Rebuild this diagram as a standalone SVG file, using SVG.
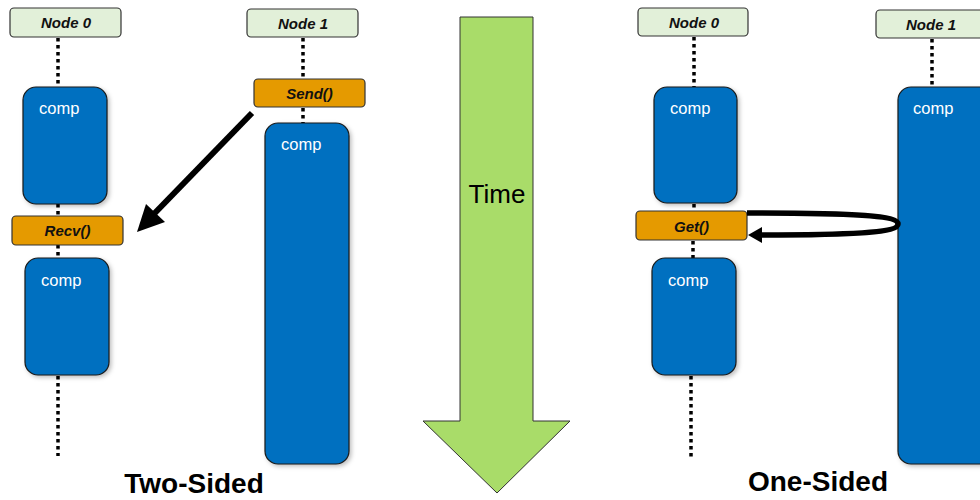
<svg xmlns="http://www.w3.org/2000/svg" width="980" height="500" viewBox="0 0 980 500">
<style>
.lbl{fill:#e2f0d9;stroke:#333;stroke-width:1.2}
.lbt{font-family:"Liberation Sans",Arial,sans-serif;font-weight:bold;font-style:italic;font-size:15px;fill:#111;text-anchor:middle}
.comp{fill:#0070c0;stroke:#1a1a1a;stroke-width:1.2}
.ct{font-family:"Liberation Sans",Arial,sans-serif;font-size:16.5px;fill:#fff}
.op{fill:#e59a00;stroke:#333;stroke-width:1.2}
.dot{stroke:#000;stroke-width:3.5;stroke-dasharray:3.5 3.5;fill:none}
.title{font-family:"Liberation Sans",Arial,sans-serif;font-weight:bold;font-size:28px;fill:#000;text-anchor:middle}
</style>
<defs>
<filter id="sh" x="-20%" y="-20%" width="150%" height="150%">
<feDropShadow dx="2" dy="2" stdDeviation="2" flood-color="#000" flood-opacity="0.25"/>
</filter>
</defs>

<g id="lifelines">
<line class="dot" x1="58" y1="38" x2="58" y2="87"/>
<line class="dot" x1="58" y1="204" x2="58" y2="216"/>
<line class="dot" x1="58" y1="245" x2="58" y2="258"/>
<line class="dot" x1="58" y1="376" x2="58" y2="456"/>
<line class="dot" x1="303" y1="38" x2="303" y2="79"/>
<line class="dot" x1="303" y1="108" x2="303" y2="123"/>
<line class="dot" x1="694" y1="37" x2="694" y2="87"/>
<line class="dot" x1="694" y1="204" x2="694" y2="211"/>
<line class="dot" x1="693" y1="241" x2="693" y2="258"/>
<line class="dot" x1="691" y1="376" x2="691" y2="460"/>
<line class="dot" x1="932" y1="39" x2="932" y2="87"/>
</g>

<g id="l-node0"><rect class="lbl" x="10" y="8" width="111" height="29" rx="4"/><text class="lbt" x="66" y="28">Node 0</text></g>
<g id="l-node1"><rect class="lbl" x="247" y="9" width="111" height="28" rx="4"/><text class="lbt" x="303" y="29">Node 1</text></g>
<g id="l-comp1"><rect class="comp" filter="url(#sh)" x="23" y="87" width="84" height="117" rx="13"/><text class="ct" x="39" y="114">comp</text></g>
<g id="l-recv"><rect class="op" x="12" y="216" width="111" height="29" rx="4"/><text class="lbt" x="67.5" y="236">Recv()</text></g>
<g id="l-comp2"><rect class="comp" filter="url(#sh)" x="25" y="258" width="84" height="117" rx="13"/><text class="ct" x="41" y="286">comp</text></g>
<g id="l-send"><rect class="op" x="254" y="79" width="111" height="28" rx="4"/><text class="lbt" x="309.5" y="99">Send()</text></g>
<g id="l-comp3"><rect class="comp" filter="url(#sh)" x="265" y="123" width="84" height="341" rx="13"/><text class="ct" x="281" y="150">comp</text></g>

<g id="time">
<polygon points="460,17 533,17 533,421 570,421 497,493 423,421 460,421" fill="#a9dc69" stroke="#333" stroke-width="1"/>
<text x="497" y="203" font-family="'Liberation Sans',Arial,sans-serif" font-size="26" text-anchor="middle" fill="#000">Time</text>
</g>

<g id="r-node0"><rect class="lbl" x="638" y="8" width="110" height="28" rx="4"/><text class="lbt" x="694" y="28">Node 0</text></g>
<g id="r-node1"><rect class="lbl" x="876" y="10" width="112" height="28" rx="4"/><text class="lbt" x="931" y="30">Node 1</text></g>
<g id="r-comp1"><rect class="comp" filter="url(#sh)" x="654" y="87" width="83" height="116" rx="13"/><text class="ct" x="670" y="114">comp</text></g>
<g id="r-get"><rect class="op" x="636" y="211" width="111" height="29" rx="4"/><text class="lbt" x="691.5" y="232">Get()</text></g>
<g id="r-comp2"><rect class="comp" filter="url(#sh)" x="652" y="258" width="84" height="117" rx="13"/><text class="ct" x="668" y="286">comp</text></g>
<g id="r-comp3"><rect class="comp" filter="url(#sh)" x="898" y="87" width="100" height="377" rx="13"/><text class="ct" x="913" y="114">comp</text></g>

<g id="connectors">
<line x1="252" y1="113" x2="150" y2="218" stroke="#000" stroke-width="6"/>
<polygon points="137,232 146,204 165,222" fill="#000"/>
<path d="M747 213 C 860 213, 898 216, 898 224 C 898 232, 860 235, 760 235" fill="none" stroke="#000" stroke-width="5.5"/>
<polygon points="748,235 762,227 762,243" fill="#000"/>
</g>

<text class="title" x="194" y="493">Two-Sided</text>
<text class="title" x="818" y="491">One-Sided</text>
</svg>
